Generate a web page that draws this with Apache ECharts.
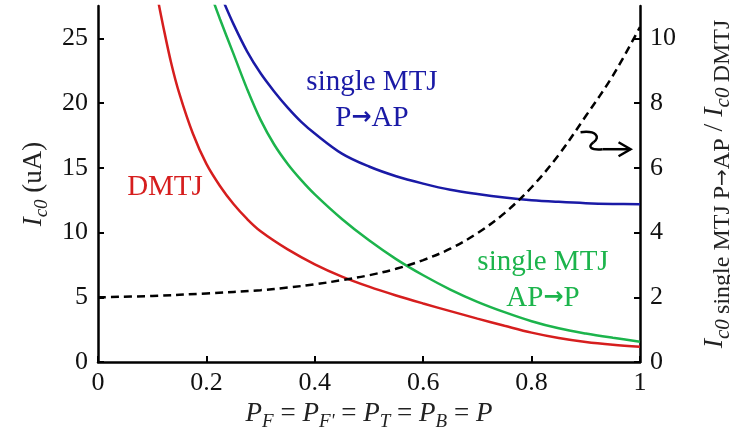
<!DOCTYPE html>
<html><head><meta charset="utf-8">
<script src="https://cdn.jsdelivr.net/npm/echarts@6/dist/echarts.min.js"></script>
<style>html,body{margin:0;padding:0;background:#fff}#c{width:730px;height:448px}</style>
</head><body><div id="c"></div>
<script>
// Tick values
const xTicks = [0, 0.2, 0.4, 0.6, 0.8, 1];
const leftTicks = [0, 5, 10, 15, 20, 25];
const rightTicks = [0, 2, 4, 6, 8, 10];

// DMTJ (left axis, uA)
const dmtjP  = [0.11, 0.12, 0.135, 0.15, 0.175, 0.2, 0.225, 0.25, 0.275, 0.3, 0.35, 0.4, 0.45, 0.5, 0.55, 0.6, 0.65, 0.7, 0.75, 0.8, 0.85, 0.9, 0.95, 1.0];
const dmtjIc = [28.1, 26.0, 23.1, 20.75, 17.65, 15.3, 13.6, 12.2, 11.05, 10.1, 8.7, 7.55, 6.6, 5.82, 5.14, 4.52, 3.93, 3.35, 2.8, 2.27, 1.85, 1.54, 1.33, 1.18];

// single MTJ P->AP (left axis, uA)
const pToApP  = [0.23, 0.25, 0.275, 0.3, 0.325, 0.35, 0.375, 0.4, 0.45, 0.5, 0.55, 0.6, 0.65, 0.7, 0.75, 0.8, 0.85, 0.9, 0.95, 1.0];
const pToApIc = [28.0, 26.1, 24.0, 22.3, 20.9, 19.65, 18.55, 17.65, 16.1, 15.1, 14.35, 13.78, 13.3, 12.97, 12.7, 12.5, 12.37, 12.27, 12.21, 12.18];

// single MTJ AP->P (left axis, uA)
const apToPP  = [0.21, 0.225, 0.25, 0.275, 0.3, 0.325, 0.35, 0.375, 0.4, 0.45, 0.5, 0.55, 0.6, 0.65, 0.7, 0.75, 0.8, 0.85, 0.9, 0.95, 1.0];
const apToPIc = [28.2, 26.5, 23.8, 21.1, 18.7, 16.8, 15.3, 14.05, 12.95, 11.05, 9.4, 7.95, 6.7, 5.6, 4.65, 3.85, 3.15, 2.6, 2.2, 1.87, 1.57];

// Ratio Ic0(single MTJ P->AP) / Ic0(DMTJ) (right axis)
const ratioP   = [0, 0.1, 0.2, 0.3, 0.35, 0.4, 0.45, 0.5, 0.55, 0.6, 0.65, 0.7, 0.75, 0.8, 0.85, 0.9, 0.95, 1.0];
const ratioVal = [2.0, 2.04, 2.12, 2.22, 2.3, 2.4, 2.53, 2.68, 2.88, 3.15, 3.5, 3.98, 4.6, 5.4, 6.4, 7.6, 8.85, 10.35];

const zip = (a, b) => a.map((v, i) => [v, b[i]]);
const SERIF = '"Liberation Serif", "Times New Roman", serif';
const RED = '#d61e1e', BLUE = '#1a1aa6', GREEN = '#1cb44c';

const chart = echarts.init(document.getElementById('c'), null, {renderer: 'canvas'});

const axisLineStyle = {show: true, lineStyle: {color: '#000', width: 2.5}};
const tickLabel = {color: '#111', fontFamily: SERIF, fontSize: 26};

const subRich = {
  i: {fontFamily: SERIF, fontStyle: 'italic', fontSize: 27, color: '#222'},
  s: {fontFamily: SERIF, fontStyle: 'italic', fontSize: 19, color: '#222', padding: [16, 0, 0, 0]},
  n: {fontFamily: SERIF, fontSize: 27, color: '#222'}
};
const rightRich = {
  i: {fontFamily: SERIF, fontStyle: 'italic', fontSize: 28, color: '#222'},
  s: {fontFamily: SERIF, fontStyle: 'italic', fontSize: 21, color: '#222', padding: [16, 0, 0, 0]},
  t: {fontFamily: SERIF, fontSize: 24, color: '#222', padding: [16, 0, 0, 0]},
  ar: {fontFamily: '"DejaVu Sans"', fontSize: 20, color: '#222', padding: [16, 0, 0, 0]},
  n: {fontFamily: SERIF, fontSize: 28, color: '#222'}
};

const lineSeries = (name, p, v, color, extra) => Object.assign({
  type: 'line', name, data: zip(p, v), smooth: 0.35, showSymbol: false,
  lineStyle: {color, width: 2.5}, z: 3
}, extra || {});

const option = {
  animation: false,
  backgroundColor: '#fff',
  grid: {left: 98, right: 90, top: 6, bottom: 86, containLabel: false, outerBoundsMode: 'none'},
  xAxis: {
    type: 'value', min: 0, max: 1, interval: 0.2,
    axisLine: axisLineStyle,
    axisTick: {show: true, inside: true, length: 6, lineStyle: {color: '#000', width: 2}},
    axisLabel: Object.assign({margin: 8, customValues: xTicks, formatter: v => String(+v.toFixed(1))}, tickLabel),
    splitLine: {show: false},
    name: '{i|P}{s|F}{n| = }{i|P}{s|F\'}{n| = }{i|P}{s|T}{n| = }{i|P}{s|B}{n| = }{i|P}',
    nameLocation: 'middle', nameGap: 33,
    nameTextStyle: {rich: subRich}
  },
  yAxis: [{
    type: 'value', min: 0, max: 27.5, position: 'left',
    axisLine: axisLineStyle,
    axisTick: {show: true, inside: true, length: 6, customValues: leftTicks, lineStyle: {color: '#000', width: 2}},
    axisLabel: Object.assign({margin: 10, customValues: leftTicks}, tickLabel),
    splitLine: {show: false},
    name: '{i|I}{s|c0}{n| (uA)}',
    nameLocation: 'middle', nameRotate: 90, nameGap: 42,
    nameTextStyle: {rich: subRich}
  }, {
    type: 'value', min: 0, max: 11, position: 'right',
    axisLine: axisLineStyle,
    axisTick: {show: true, inside: true, length: 6, customValues: rightTicks, lineStyle: {color: '#000', width: 2}},
    axisLabel: Object.assign({margin: 10, customValues: rightTicks}, tickLabel),
    splitLine: {show: false},
    name: '{i|I}{s|c0 }{t|single MTJ P}{ar|→}{t|AP}{n| / }{i|I}{s|c0 }{t|DMTJ}',
    nameLocation: 'middle', nameRotate: 90, nameGap: 55,
    nameTextStyle: {rich: rightRich}
  }],
  series: [
    lineSeries('DMTJ', dmtjP, dmtjIc, RED),
    lineSeries('single MTJ P→AP', pToApP, pToApIc, BLUE),
    lineSeries('single MTJ AP→P', apToPP, apToPIc, GREEN),
    lineSeries('ratio', ratioP, ratioVal, '#000', {yAxisIndex: 1, z: 4, lineStyle: {color: '#000', width: 2.5, type: [8, 5]}})
  ]
};
chart.setOption(option);

// annotations
const txt = (x, y, text, color) => ({
  type: 'text', x, y, z: 10,
  style: {text, fill: color, font: '29px ' + SERIF, align: 'center', verticalAlign: 'middle',
          rich: {a: {color, fontFamily: SERIF, fontSize: 29},
                 b: {color, fontFamily: '"DejaVu Sans"', fontSize: 24, fontWeight: 'bold'}}}
});
const a = chart.convertToPixel({xAxisIndex: 0, yAxisIndex: 1}, [0.894, 7.1]);
const ax = a[0], ay = a[1];
const stroke = {stroke: '#000', lineWidth: 2.5, fill: null};
chart.setOption({
  graphic: [
    txt(165, 187, 'DMTJ', RED),
    txt(372, 82, 'single MTJ', BLUE),
    txt(372, 118, '{a|P}{b|→}{a|AP}', BLUE),
    txt(543, 262, 'single MTJ', GREEN),
    txt(543, 298, '{a|AP}{b|→}{a|P}', GREEN),
    {type: 'bezierCurve', z: 10, shape: {x1: ax - 2, y1: ay, cpx1: ax + 14, cpy1: ay - 2, cpx2: ax + 18, cpy2: ay + 5, x2: ax + 11, y2: ay + 10}, style: stroke},
    {type: 'bezierCurve', z: 10, shape: {x1: ax + 11, y1: ay + 10, cpx1: ax + 4, cpy1: ay + 15, cpx2: ax + 9, cpy2: ay + 18, x2: ax + 20, y2: ay + 17}, style: stroke},
    {type: 'polyline', z: 10, shape: {points: [[ax + 20, ay + 17], [ax + 48, ay + 17]]}, style: stroke},
    {type: 'polyline', z: 10, shape: {points: [[ax + 36, ay + 10], [ax + 48, ay + 17], [ax + 36, ay + 24]]}, style: stroke}
  ]
});
</script>
</body></html>
